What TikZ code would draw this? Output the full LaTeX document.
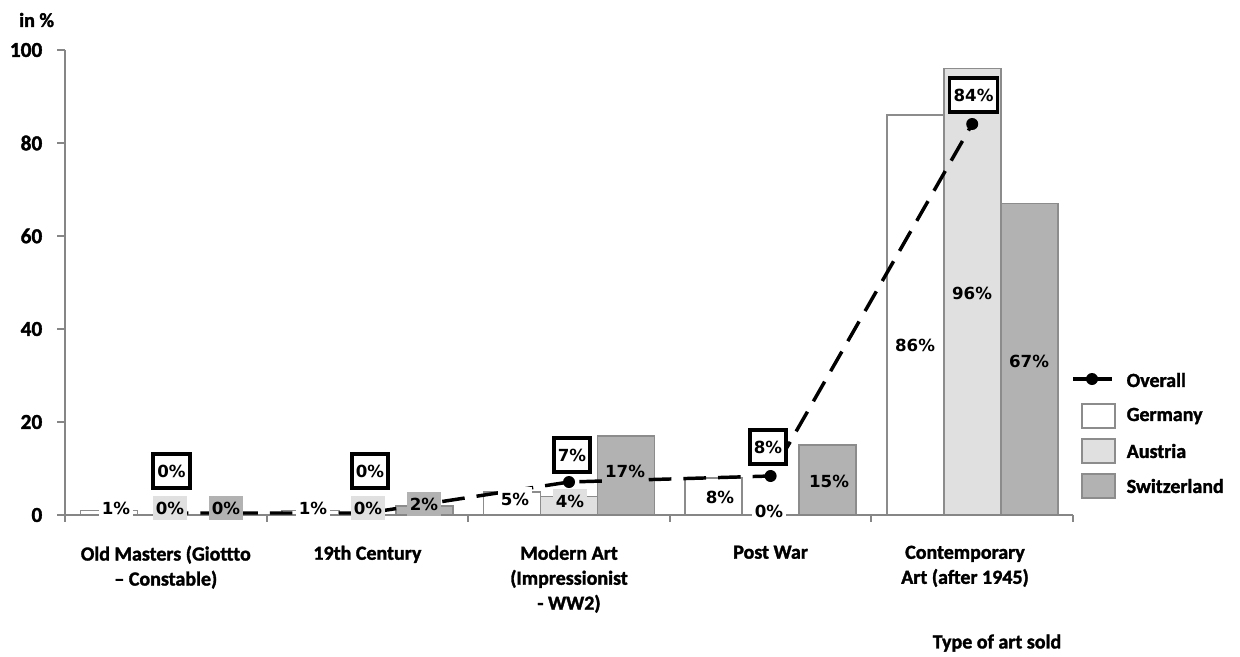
\documentclass[tikz,border=0pt]{standalone}
\usepackage{fontspec}
\setmainfont{Carlito}[BoldFeatures={FakeBold=1.6}]
\newfontfamily\valfont{DejaVu Sans}
\begin{document}
\begin{tikzpicture}[x=0.75pt,y=-0.75pt,
  axisline/.style={draw=axisgray,line width=1.6pt},
  gerbar/.style={draw=bargray,fill=white,line width=1.2pt},
  autbar/.style={draw=bargray,fill=ltgray,line width=1.2pt},
  chbar/.style={draw=bargray,fill=dkgray,line width=1.2pt},
  overall/.style={line width=2.6pt,dash pattern=on 17pt off 9pt},
  dot/.style={circle,fill=black,inner sep=0pt,minimum size=9pt},
  vlab/.style={font=\valfont\bfseries\fontsize{12.5}{14}\selectfont,inner xsep=2pt,inner ysep=4pt},
  boxlab/.style={draw=black,line width=2.8pt,fill=white,inner xsep=3pt,minimum height=26pt,
    font=\valfont\bfseries\fontsize{12.5}{14}\selectfont},
  ticklab/.style={anchor=east,font=\bfseries\fontsize{16}{18}\selectfont},
  catlab/.style={anchor=north,align=center,font=\bfseries\fontsize{15}{18.75}\selectfont},
  leglab/.style={anchor=west,font=\bfseries\fontsize{15}{17}\selectfont},
  legbox/.style={draw=bargray,line width=1.2pt,minimum width=25pt,minimum height=18pt,inner sep=0pt}]
\definecolor{axisgray}{HTML}{868686}
\definecolor{bargray}{HTML}{8C8C8C}
\definecolor{ltgray}{HTML}{E0E0E0}
\definecolor{dkgray}{HTML}{B2B2B2}
\useasboundingbox[fill=white] (0,0) rectangle (1240,657);

% bars (value v drawn up to 515-4.65v)
% Old Masters
\draw[gerbar] (80.3,515) rectangle (137.3,510.35);
% 19th Century
\draw[gerbar] (281.9,515) rectangle (338.9,510.35);
\draw[chbar]  (395.9,515) rectangle (452.9,505.7);
% Modern Art
\draw[gerbar] (483.5,515) rectangle (540.5,491.75);
\draw[autbar] (540.5,515) rectangle (597.5,496.4);
\draw[chbar]  (597.5,515) rectangle (654.5,435.95);
% Post War
\draw[gerbar] (685.1,515) rectangle (742.1,477.8);
\draw[chbar]  (799.1,515) rectangle (856.1,445.25);
% Contemporary Art
\draw[gerbar] (886.7,515) rectangle (943.7,115.1);
\draw[autbar] (943.7,515) rectangle (1000.7,68.6);
\draw[chbar]  (1000.7,515) rectangle (1057.7,203.45);

% axes
\draw[axisline] (65,50) -- (65,515) -- (1073,515);
\foreach \yy in {50,143,236,329,422,515} \draw[axisline] (57,\yy) -- (65,\yy);
\foreach \xx in {65,266.6,468.2,669.8,871.4,1073} \draw[axisline] (\xx,515) -- (\xx,522);

\node[ticklab] (t100) at (47,50) {100};
\node[ticklab] (t80) at (47,143) {80};
\node[ticklab] (t60) at (47,236) {60};
\node[ticklab] (t40) at (47,329) {40};
\node[ticklab] (t20) at (47,422) {20};
\node[ticklab] (t0) at (47,515) {0};
\node[anchor=west,font=\bfseries\fontsize{15}{17}\selectfont,inner sep=0pt] (unit) at (19,20) {in \%};

% overall line
\coordinate (o1) at (165.8,513);
\coordinate (o2) at (367.4,513);
\coordinate (o3) at (569,482);
\coordinate (o4) at (770.6,476);
\coordinate (o5) at (972.2,124);
\draw[overall] (o1) -- (o2) -- (o3) -- (o4) -- (o5);
\foreach \p in {o1,o2,o3,o4,o5} \node[dot] (d\p) at (\p) {};

% bar value labels
\node[vlab,fill=white]  (g1) at (116,508) {1\%};
\node[vlab,fill=ltgray] (a1) at (170,508) {0\%};
\node[vlab,fill=dkgray] (s1) at (226,508) {0\%};
\node[vlab,fill=white]  (g2) at (313,508) {1\%};
\node[vlab,fill=ltgray] (a2) at (368,508) {0\%};
\node[vlab,fill=dkgray] (s2) at (424,504) {2\%};
\node[vlab,fill=white]  (g3) at (515,499) {5\%};
\node[vlab,fill=ltgray] (a3) at (570,501) {4\%};
\node[vlab,fill=dkgray] (s3) at (625,471) {17\%};
\node[vlab,fill=white]  (g4) at (720,497) {8\%};
\node[vlab,fill=white]  (a4) at (769,511) {0\%};
\node[vlab,fill=dkgray] (s4) at (829,481) {15\%};
\node[vlab,fill=white]  (g5) at (915,345) {86\%};
\node[vlab,fill=ltgray] (a5) at (972,293) {96\%};
\node[vlab,fill=dkgray] (s5) at (1029,361) {67\%};

% overall value labels
\node[boxlab] (b1) at (171.5,471) {0\%};
\node[boxlab] (b2) at (370,471) {0\%};
\node[boxlab] (b3) at (572,455) {7\%};
\node[boxlab] (b4) at (768,447) {8\%};
\node[boxlab] (b5) at (973.5,95) {84\%};

% category labels
\node[catlab] (c1) at (165.8,541) {Old Masters (Giottto\\– Constable)};
\node[catlab] (c2) at (367.4,541) {19th Century};
\node[catlab] (c3) at (569,541) {Modern Art\\(Impressionist\\- WW2)};
\node[catlab] (c4) at (770.6,541) {Post War};
\node[catlab] (c5) at (965,541) {Contemporary\\Art (after 1945)};
\node[font=\bfseries\fontsize{15}{17}\selectfont] (xt) at (997,643) {Type of art sold};

% legend
\coordinate (l1) at (1073,379);
\coordinate (l2) at (1112,379);
\draw[line width=2.6pt] (l1) -- (l2);
\node[dot] (ld) at (1092,379) {};
\node[leglab] (lo) at (1122,380) {Overall};
\node[legbox,fill=white]  (lg) at (1098.5,416) {};
\node[legbox,fill=ltgray] (la) at (1098.5,451) {};
\node[legbox,fill=dkgray] (ls) at (1098.5,486) {};
\node[leglab] (lgt) at (1122,416) {Germany};
\node[leglab] (lat) at (1122,451) {Austria};
\node[leglab] (lst) at (1122,486) {Switzerland};
\end{tikzpicture}
\end{document}
